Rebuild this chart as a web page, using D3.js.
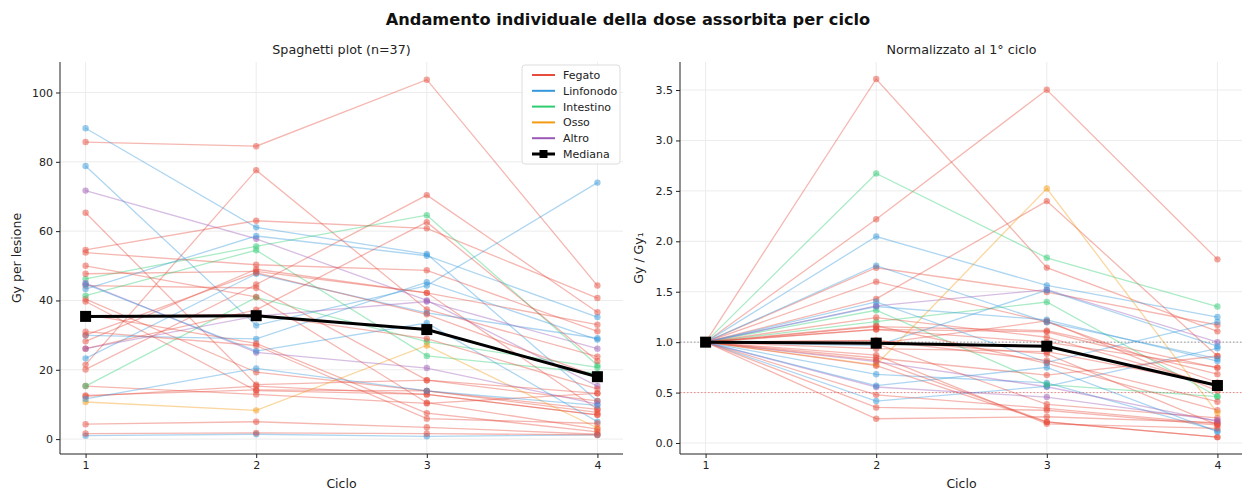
<!DOCTYPE html>
<html>
<head>
<meta charset="utf-8">
<script src="https://cdn.jsdelivr.net/npm/d3@7"></script>
<style>
    body { margin: 0; background: #fff; }
    svg { display: block; font-family: "DejaVu Sans", sans-serif; }
</style>
</head>
<body>
<div id="chart"></div>
<script>
// cycles and lesion tissue types
const cycles = [1, 2, 3, 4]
const tissueNames = ['Fegato', 'Linfonodo', 'Intestino', 'Osso', 'Altro']
const tissueColors = ['#e74c3c', '#3498db', '#2ecc71', '#f39c12', '#9b59b6']

// one entry per lesion (n=37), Gy per cycle
const lesionTissue = [
    'Fegato', 'Linfonodo', 'Fegato', 'Fegato', 'Altro', 'Fegato', 'Linfonodo', 'Fegato',
    'Intestino', 'Fegato', 'Fegato', 'Linfonodo', 'Fegato', 'Fegato', 'Intestino', 'Fegato',
    'Linfonodo', 'Fegato', 'Fegato', 'Altro', 'Fegato', 'Linfonodo', 'Fegato', 'Fegato',
    'Intestino', 'Fegato', 'Osso', 'Linfonodo', 'Fegato', 'Fegato', 'Altro', 'Fegato',
    'Linfonodo', 'Fegato', 'Fegato', 'Linfonodo', 'Fegato'
]
const lesionGy = [
    [85.7, 84.5, 103.7, 44.3],
    [89.7, 61.1, 53.4, 11.0],
    [21.5, 77.6, 37.4, 23.8],
    [20.1, 44.6, 70.4, 36.6],
    [71.7, 57.8, 40.0, 15.3],
    [65.3, 15.7, 17.0, 13.2],
    [78.8, 32.8, 44.3, 74.0],
    [54.6, 63.0, 60.8, 40.7],
    [46.2, 55.6, 64.6, 21.3],
    [53.8, 50.3, 48.7, 31.1],
    [47.7, 48.4, 42.2, 8.6],
    [23.3, 47.7, 36.4, 29.1],
    [44.3, 43.6, 17.0, 11.0],
    [40.4, 19.3, 13.9, 7.7],
    [41.4, 54.5, 24.0, 19.0],
    [39.7, 14.0, 12.9, 7.0],
    [43.3, 58.6, 52.9, 35.2],
    [28.2, 49.0, 42.2, 33.0],
    [26.1, 37.3, 62.6, 22.5],
    [26.1, 35.5, 39.7, 26.1],
    [15.3, 12.9, 10.3, 13.2],
    [29.9, 28.9, 45.3, 28.7],
    [12.6, 14.2, 13.9, 8.6],
    [12.3, 15.3, 12.9, 7.0],
    [15.3, 40.9, 28.1, 20.7],
    [4.3, 5.0, 3.4, 1.4],
    [10.7, 8.3, 27.0, 3.2],
    [1.0, 1.4, 0.8, 1.2],
    [1.6, 1.8, 1.6, 1.2],
    [50.0, 41.0, 10.5, 2.9],
    [45.0, 25.0, 20.5, 10.1],
    [36.0, 27.6, 7.5, 2.1],
    [44.7, 25.4, 33.5, 5.0],
    [35.4, 36.0, 29.0, 14.5],
    [30.0, 48.0, 36.0, 18.0],
    [11.6, 20.4, 13.9, 9.7],
    [31.0, 27.0, 5.9, 4.5]
]

// median lines
const medianGy = [35.4, 35.6, 31.6, 18.0]
const medianNorm = [1.0, 0.99, 0.96, 0.57]

const gyTicks = [0, 20, 40, 60, 80, 100]
const normTicks = [0, 0.5, 1, 1.5, 2, 2.5, 3, 3.5]

const W = 1242, H = 491
const color = d3.scaleOrdinal().domain(tissueNames).range(tissueColors)

const svg = d3.select('#chart').append('svg')
    .attr('width', W)
    .attr('height', H)

svg.append('text')
    .attr('x', 628).attr('y', 25)
    .attr('text-anchor', 'middle')
    .attr('font-size', 16.2)
    .attr('font-weight', 'bold')
    .attr('fill', '#111')
    .text('Andamento individuale della dose assorbita per ciclo')

function drawPanel(opts) {
    const { left, right, top, bottom } = opts
    const x = d3.scaleLinear().domain([0.85, 4.15]).range([left, right])
    const y = d3.scaleLinear().domain(opts.yDomain).range([bottom, top])
    const g = svg.append('g')

    // grid
    g.append('g').selectAll('line.gx')
        .data(cycles)
        .join('line')
        .attr('x1', d => x(d)).attr('x2', d => x(d))
        .attr('y1', top).attr('y2', bottom)
        .attr('stroke', '#ececec')
    g.append('g').selectAll('line.gy')
        .data(opts.ticks)
        .join('line')
        .attr('x1', left).attr('x2', right)
        .attr('y1', d => y(d)).attr('y2', d => y(d))
        .attr('stroke', '#ececec')

    if (opts.refLines) {
        opts.refLines.forEach(r => {
            g.append('line')
                .attr('x1', left).attr('x2', right)
                .attr('y1', y(r.v)).attr('y2', y(r.v))
                .attr('stroke', r.c)
                .attr('stroke-width', 1)
                .attr('stroke-dasharray', '1.5,2')
        })
    }

    const line = d3.line()
        .x((d, i) => x(cycles[i]))
        .y(d => y(d))

    const series = opts.values.map((v, i) => ({ tissue: lesionTissue[i], v }))

    const lg = g.append('g')
    lg.selectAll('path')
        .data(series)
        .join('path')
        .attr('d', d => line(d.v))
        .attr('fill', 'none')
        .attr('stroke', d => color(d.tissue))
        .attr('stroke-width', 1.3)
        .attr('stroke-opacity', 0.4)
    series.forEach(s => {
        lg.append('g').selectAll('circle')
            .data(s.v)
            .join('circle')
            .attr('cx', (d, i) => x(cycles[i]))
            .attr('cy', d => y(d))
            .attr('r', 3.2)
            .attr('fill', color(s.tissue))
            .attr('fill-opacity', 0.5)
    })

    // median
    g.append('path')
        .attr('d', line(opts.median))
        .attr('fill', 'none')
        .attr('stroke', '#000')
        .attr('stroke-width', 3)
    g.append('g').selectAll('rect')
        .data(opts.median)
        .join('rect')
        .attr('x', (d, i) => x(cycles[i]) - 5.5)
        .attr('y', d => y(d) - 5.5)
        .attr('width', 11).attr('height', 11)
        .attr('fill', '#000')

    // axes
    const xAxis = g.append('g')
        .attr('transform', `translate(0,${bottom})`)
        .call(d3.axisBottom(x).tickValues(cycles).tickFormat(d3.format('d')).tickSizeOuter(0).tickSize(4))
    const yAxis = g.append('g')
        .attr('transform', `translate(${left},0)`)
        .call(d3.axisLeft(y).tickValues(opts.ticks).tickFormat(opts.fmt).tickSizeOuter(0).tickSize(4))
    ;[xAxis, yAxis].forEach(a => {
        a.select('.domain').attr('stroke', '#222').attr('stroke-width', 1)
        a.selectAll('.tick line').attr('stroke', '#222')
        a.selectAll('.tick text').attr('fill', '#222').attr('font-size', 11)
            .attr('font-family', '"DejaVu Sans", sans-serif')
    })
    xAxis.select('.domain').attr('d', `M${left},0H${right}`)
    yAxis.select('.domain').attr('d', `M0,${top}V${bottom}`)

    g.append('text')
        .attr('x', (left + right) / 2).attr('y', 54)
        .attr('text-anchor', 'middle')
        .attr('font-size', 12.7)
        .attr('fill', '#222')
        .text(opts.title)
    g.append('text')
        .attr('x', (left + right) / 2).attr('y', 488)
        .attr('text-anchor', 'middle')
        .attr('font-size', 12.5)
        .attr('fill', '#222')
        .text('Ciclo')
    g.append('text')
        .attr('transform', `translate(${opts.yLabelX},${(top + bottom) / 2}) rotate(-90)`)
        .attr('text-anchor', 'middle')
        .attr('font-size', 12.5)
        .attr('fill', '#222')
        .text(opts.yLabel)
}

drawPanel({
    left: 60, right: 623, top: 62, bottom: 454,
    yDomain: [-4.3, 108.8],
    ticks: gyTicks,
    fmt: d3.format('d'),
    values: lesionGy,
    median: medianGy,
    title: 'Spaghetti plot (n=37)',
    yLabel: 'Gy per lesione',
    yLabelX: 21
})

const lesionNorm = lesionGy.map(v => v.map(d => d / v[0]))

drawPanel({
    left: 680, right: 1243, top: 62, bottom: 454,
    yDomain: [-0.109, 3.778],
    ticks: normTicks,
    fmt: d3.format('.1f'),
    values: lesionNorm,
    median: medianNorm,
    title: 'Normalizzato al 1° ciclo',
    yLabel: 'Gy / Gy₁',
    yLabelX: 643,
    refLines: [{ v: 1, c: '#999' }, { v: 0.5, c: '#e88' }]
})

// legend
const legend = svg.append('g').attr('transform', 'translate(522,65)')
legend.append('rect')
    .attr('width', 98).attr('height', 99)
    .attr('rx', 3)
    .attr('fill', '#fff').attr('fill-opacity', 0.85)
    .attr('stroke', '#ddd')
const items = tissueNames.map(t => ({ name: t, c: color(t) })).concat([{ name: 'Mediana', c: '#000' }])
items.forEach((it, i) => {
    const row = legend.append('g').attr('transform', `translate(0,${10 + i * 15.8})`)
    row.append('line')
        .attr('x1', 10).attr('x2', 33)
        .attr('stroke', it.c)
        .attr('stroke-width', it.name === 'Mediana' ? 3 : 2)
    if (it.name === 'Mediana') {
        row.append('rect').attr('x', 17.5).attr('y', -4).attr('width', 8).attr('height', 8).attr('fill', '#000')
    }
    row.append('text')
        .attr('x', 41).attr('y', 4)
        .attr('font-size', 11)
        .attr('fill', '#222')
        .text(it.name)
})
</script>
</body>
</html>
